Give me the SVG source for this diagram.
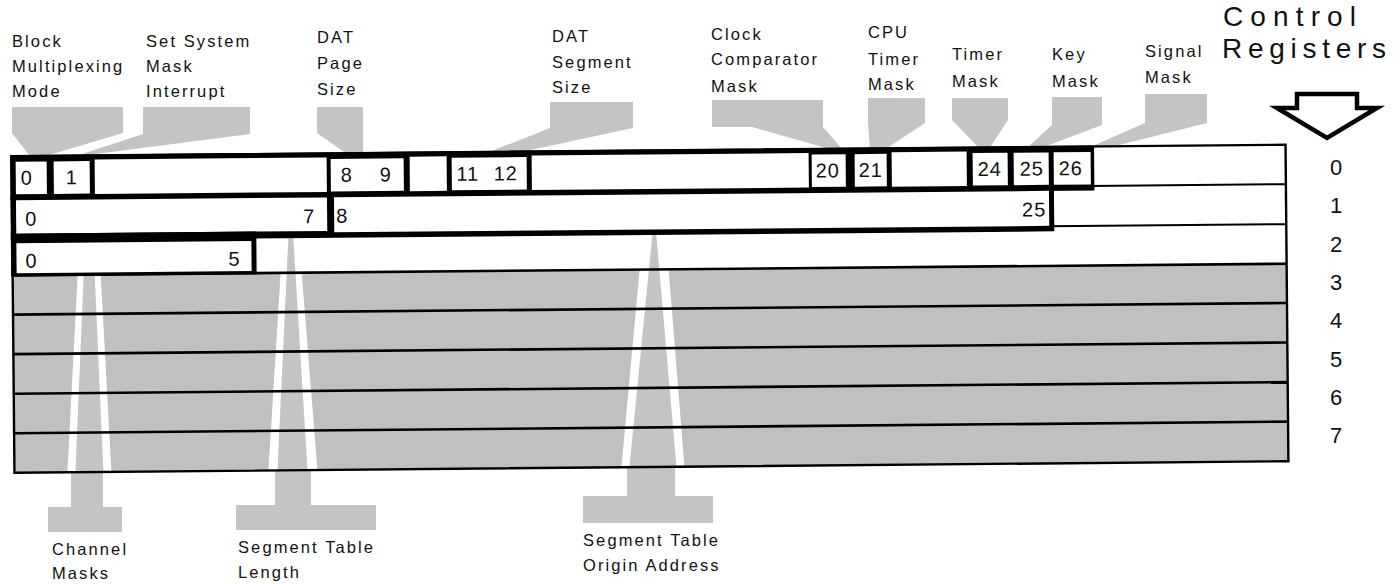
<svg xmlns="http://www.w3.org/2000/svg" width="1393" height="584" viewBox="0 0 1393 584">
<style>
.lbl{font-family:"Liberation Sans",Arial,sans-serif;font-size:16.5px;letter-spacing:2.1px;fill:#111}
.num{font-family:"Liberation Sans",Arial,sans-serif;font-size:20px;letter-spacing:1px;fill:#111;text-anchor:middle}
.rn{font-family:"Liberation Sans",Arial,sans-serif;font-size:22px;fill:#111;text-anchor:middle}
.ttl{font-family:"Liberation Sans",Arial,sans-serif;font-size:28px;fill:#111}
.beam{fill:#c4c4c4}
.shade{fill:#c0c0c0}
.gap{fill:#fff}
.blk{fill:#000}
.wht{fill:#fff}
.sep{stroke:#000;stroke-width:2.6;fill:none}
.thin{stroke:#000;stroke-width:2;fill:none}
</style>
<rect width="1393" height="584" fill="#fff"/>

<g id="connectors">
  <polygon class="beam" points="12,107 123,107 123,133 49,155 29,155 12,133"/>
  <polygon class="beam" points="143,107 250,107 250,134 96,154 76,156 143,134"/>
  <polygon class="beam" points="317,107 363,107 363,154 347,154 317,133"/>
  <polygon class="beam" points="550,102 633,102 633,128 521,152 487,153 550,128"/>
  <polygon class="beam" points="712,100 823,100 823,127 843,150 833,150 752,127 712,127"/>
  <polygon class="beam" points="868,98 925,98 925,123 884,150 870,150 868,123"/>
  <polygon class="beam" points="952,98 1008,98 1008,120 989,149 980,149 952,120"/>
  <polygon class="beam" points="1052,97 1102,97 1102,125 1041,148 1027,148 1052,125"/>
  <polygon class="beam" points="1145,94 1207,94 1207,123 1107,148 1088,148 1145,123"/>
  <polygon class="beam" points="71,466 103,466 103,507 122,507 122,532 48,532 48,507 71,507"/>
  <polygon class="beam" points="275,464 311,464 311,505 376,505 376,530 236,530 236,505 275,505"/>
  <polygon class="beam" points="627,460 675,460 675,496 713,496 713,523 583,523 583,496 627,496"/>
</g>

<g id="control-registers" transform="rotate(-0.52 650 310)">
  <rect x="13" y="150.5" width="1274" height="316.5" fill="#fff"/>
  <rect class="shade" x="13" y="269.5" width="1274" height="197.5"/>
  <g id="beam-through">
    <polygon class="gap" points="78,269.5 101,269.5 110,467 66,467"/>
    <polygon class="beam" points="84,269.5 95,269.5 102,467 74,467"/>
    <polygon class="gap" points="281,269.5 302,269.5 316,467 267,467"/>
    <polygon class="beam" points="289,235 294,235 306,467 276,467"/>
    <polygon class="gap" points="640,269.5 669,269.5 683,467 620,467"/>
    <polygon class="beam" points="653,235 657,235 675,467 628,467"/>
  </g>
  <g id="row-lines">
    <line class="sep" x1="13" y1="269.5" x2="1287" y2="269.5"/>
    <line class="sep" x1="13" y1="308.8" x2="1287" y2="308.8"/>
    <line class="sep" x1="13" y1="348.3" x2="1287" y2="348.3"/>
    <line class="sep" x1="13" y1="387.9" x2="1287" y2="387.9"/>
    <line class="sep" x1="13" y1="427.4" x2="1287" y2="427.4"/>
    <line class="thin" x1="1090" y1="190" x2="1287" y2="190"/>
    <line class="thin" x1="1050" y1="230" x2="1287" y2="230"/>
  </g>
  <g id="cr0">
    <rect class="blk" x="11.5" y="149.5" width="1084" height="45"/>
    <rect class="wht" x="17" y="156" width="31" height="32.5"/>
    <rect class="wht" x="55" y="156" width="36" height="32.5"/>
    <rect class="wht" x="96" y="154.5" width="232" height="34.5"/>
    <rect class="wht" x="332" y="156" width="73" height="32.5"/>
    <rect class="wht" x="411" y="154.5" width="37" height="34.5"/>
    <rect class="wht" x="453" y="156" width="75" height="32.5"/>
    <rect class="wht" x="533" y="154.5" width="277" height="34.5"/>
    <rect class="wht" x="813" y="156" width="34" height="32.5"/>
    <rect class="wht" x="856" y="156" width="32" height="32.5"/>
    <rect class="wht" x="893" y="154.5" width="75" height="34.5"/>
    <rect class="wht" x="974" y="156" width="35" height="32.5"/>
    <rect class="wht" x="1015" y="156" width="35" height="32.5"/>
    <rect class="wht" x="1055" y="156" width="37" height="32.5"/>
    <text class="num" x="28" y="179">0</text>
    <text class="num" x="73" y="179">1</text>
    <text class="num" x="348" y="179">8</text>
    <text class="num" x="387" y="179">9</text>
    <text class="num" x="469" y="179">11</text>
    <text class="num" x="507" y="179">12</text>
    <text class="num" x="829" y="179">20</text>
    <text class="num" x="872" y="179">21</text>
    <text class="num" x="991" y="179">24</text>
    <text class="num" x="1033" y="179">25</text>
    <text class="num" x="1072" y="179">26</text>
  </g>
  <g id="cr1">
    <rect class="blk" x="11.5" y="190" width="1043.5" height="45"/>
    <rect class="wht" x="17" y="194.5" width="311" height="33.5"/>
    <rect class="wht" x="335" y="194.5" width="715" height="35"/>
    <text class="num" x="32" y="220">0</text>
    <text class="num" x="310" y="220">7</text>
    <text class="num" x="343" y="220">8</text>
    <text class="num" x="1035" y="220">25</text>
  </g>
  <g id="cr2">
    <rect class="blk" x="11.5" y="228" width="245.5" height="43"/>
    <rect class="wht" x="17" y="237.5" width="235" height="30"/>
    <text class="num" x="32" y="262">0</text>
    <text class="num" x="235" y="262">5</text>
  </g>
  <rect x="13" y="150.5" width="1274" height="316.5" fill="none" stroke="#000" stroke-width="2.4"/>
</g>

<g id="label-block-multiplexing">
  <text class="lbl" x="12" y="47">Block</text>
  <text class="lbl" x="12" y="72">Multiplexing</text>
  <text class="lbl" x="12" y="97">Mode</text>
</g>
<g id="label-set-system-mask">
  <text class="lbl" x="146" y="47">Set System</text>
  <text class="lbl" x="146" y="72">Mask</text>
  <text class="lbl" x="146" y="97">Interrupt</text>
</g>
<g id="label-dat-page">
  <text class="lbl" x="317" y="43">DAT</text>
  <text class="lbl" x="317" y="69">Page</text>
  <text class="lbl" x="317" y="95">Size</text>
</g>
<g id="label-dat-segment">
  <text class="lbl" x="552" y="42">DAT</text>
  <text class="lbl" x="552" y="68">Segment</text>
  <text class="lbl" x="552" y="93">Size</text>
</g>
<g id="label-clock-comparator">
  <text class="lbl" x="711" y="40">Clock</text>
  <text class="lbl" x="711" y="65">Comparator</text>
  <text class="lbl" x="711" y="92">Mask</text>
</g>
<g id="label-cpu-timer">
  <text class="lbl" x="868" y="38">CPU</text>
  <text class="lbl" x="868" y="65">Timer</text>
  <text class="lbl" x="868" y="90">Mask</text>
</g>
<g id="label-timer-mask">
  <text class="lbl" x="952" y="60">Timer</text>
  <text class="lbl" x="952" y="87">Mask</text>
</g>
<g id="label-key-mask">
  <text class="lbl" x="1052" y="60">Key</text>
  <text class="lbl" x="1052" y="87">Mask</text>
</g>
<g id="label-signal-mask">
  <text class="lbl" x="1145" y="57">Signal</text>
  <text class="lbl" x="1145" y="83">Mask</text>
</g>
<g id="label-channel-masks">
  <text class="lbl" x="52" y="555">Channel</text>
  <text class="lbl" x="52" y="579">Masks</text>
</g>
<g id="label-segment-table-length">
  <text class="lbl" x="238" y="553">Segment Table</text>
  <text class="lbl" x="238" y="578">Length</text>
</g>
<g id="label-segment-table-origin">
  <text class="lbl" x="583" y="546">Segment Table</text>
  <text class="lbl" x="583" y="571">Origin Address</text>
</g>

<g id="title">
  <text class="ttl" x="1223" y="26" textLength="133" lengthAdjust="spacing">Control</text>
  <text class="ttl" x="1222" y="58" textLength="164" lengthAdjust="spacing">Registers</text>
  <polygon points="1297,94 1357,94 1357,108 1377,108 1327,138 1277,108 1297,108" fill="#fff" stroke="#000" stroke-width="4.5" stroke-linejoin="miter"/>
</g>
<g id="row-numbers">
  <text class="rn" x="1336" y="175">0</text>
  <text class="rn" x="1336" y="213">1</text>
  <text class="rn" x="1336" y="252">2</text>
  <text class="rn" x="1336" y="290">3</text>
  <text class="rn" x="1336" y="328">4</text>
  <text class="rn" x="1336" y="367">5</text>
  <text class="rn" x="1336" y="405">6</text>
  <text class="rn" x="1336" y="443">7</text>
</g>
</svg>
